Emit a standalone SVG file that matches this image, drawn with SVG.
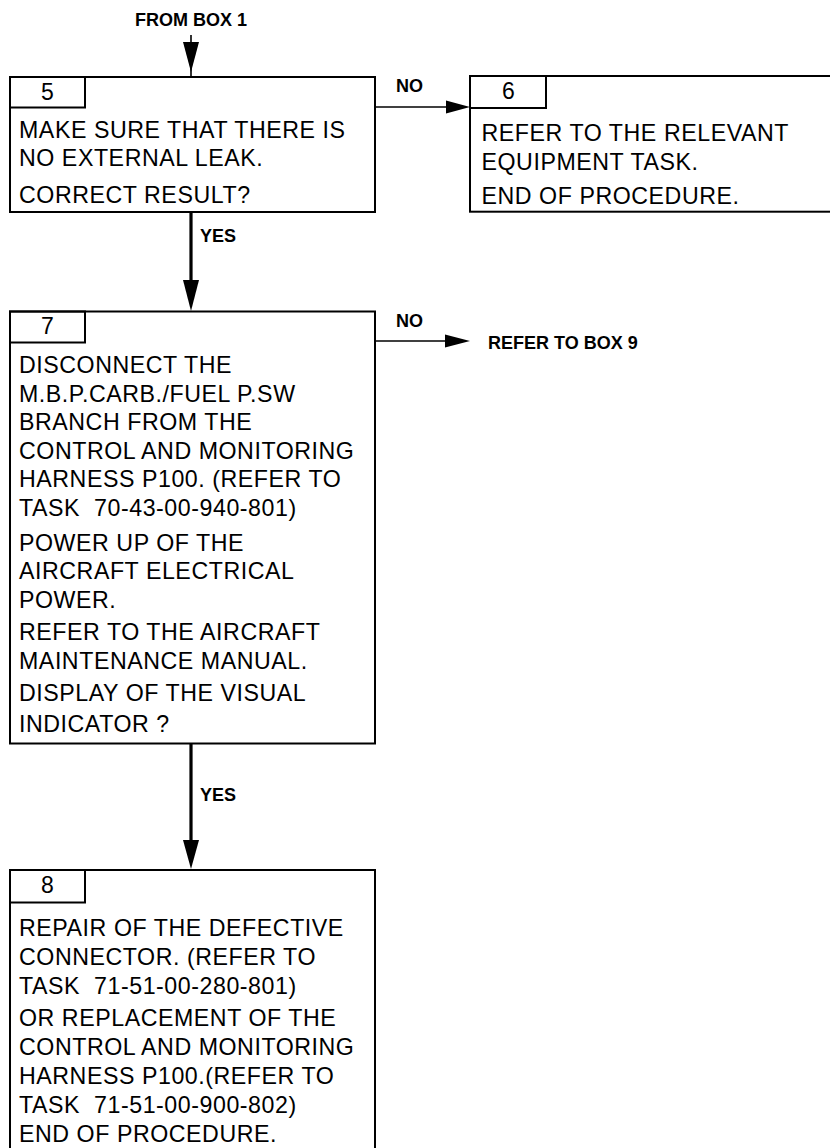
<svg xmlns="http://www.w3.org/2000/svg" width="830" height="1148" viewBox="0 0 830 1148">
<defs>
<style>
.box{fill:#fff;stroke:#000;stroke-width:2}
.tab{fill:none;stroke:#000;stroke-width:2}
.t{font-family:"Liberation Sans",Arial,sans-serif;font-size:23.2px;letter-spacing:0.55px;fill:#000;white-space:pre}
.n{font-family:"Liberation Sans",Arial,sans-serif;font-size:23px;fill:#000;text-anchor:middle}
.lb{font-family:"Liberation Sans",Arial,sans-serif;font-size:18px;font-weight:bold;fill:#000}
.thin{stroke:#000;stroke-width:1.6;fill:none}
.thick{stroke:#000;stroke-width:3.2;fill:none}
.head{fill:#000;stroke:none}
</style>
</defs>
<rect width="830" height="1148" fill="#fff"/>

<g id="connectors">
  <line class="thin" x1="191" y1="35" x2="191" y2="77"/>
  <polygon class="head" points="183,42 199,42 191,72"/>
  <line class="thick" x1="191" y1="212" x2="191" y2="282"/>
  <polygon class="head" points="183,280 199,280 191,311"/>
  <line class="thick" x1="191" y1="743" x2="191" y2="842"/>
  <polygon class="head" points="183,840 199,840 191,869"/>
  <line class="thin" x1="375" y1="107" x2="448" y2="107"/>
  <polygon class="head" points="446,100.5 446,113.5 470,107"/>
  <line class="thin" x1="375" y1="341" x2="447" y2="341"/>
  <polygon class="head" points="445,334.5 445,347.5 470,341"/>
  <text class="lb" x="135" y="26">FROM BOX 1</text>
  <text class="lb" x="200" y="242">YES</text>
  <text class="lb" x="396" y="92">NO</text>
  <text class="lb" x="396" y="327">NO</text>
  <text class="lb" x="488" y="348.5">REFER TO BOX 9</text>
  <text class="lb" x="200" y="801">YES</text>
</g>

<g id="box5">
  <rect class="box" x="10" y="77" width="365" height="135"/>
  <rect class="tab" x="10" y="77" width="75" height="30.5"/>
  <text class="n" x="47.5" y="99.5">5</text>
  <text class="t" x="19" y="137.5">MAKE SURE THAT THERE IS</text>
  <text class="t" x="19" y="166">NO EXTERNAL LEAK.</text>
  <text class="t" x="19" y="202.5">CORRECT RESULT?</text>
</g>

<g id="box6">
  <rect class="box" x="470" y="76" width="380" height="135.7"/>
  <rect class="tab" x="470" y="76" width="76" height="32"/>
  <text class="n" x="508.5" y="99">6</text>
  <text class="t" x="481.5" y="141">REFER TO THE RELEVANT</text>
  <text class="t" x="481.5" y="169.5">EQUIPMENT TASK.</text>
  <text class="t" x="481.5" y="203.5">END OF PROCEDURE.</text>
</g>

<g id="box7">
  <rect class="box" x="10" y="311.5" width="365" height="432"/>
  <rect class="tab" x="10" y="311.5" width="75" height="31"/>
  <text class="n" x="47.5" y="333.5">7</text>
  <text class="t" x="19" y="373">DISCONNECT THE</text>
  <text class="t" x="19" y="401.5">M.B.P.CARB./FUEL P.SW</text>
  <text class="t" x="19" y="430">BRANCH FROM THE</text>
  <text class="t" x="19" y="458.5">CONTROL AND MONITORING</text>
  <text class="t" x="19" y="487">HARNESS P100. (REFER TO</text>
  <text class="t" x="19" y="515.5" xml:space="preserve">TASK  70-43-00-940-801)</text>
  <text class="t" x="19" y="550.5">POWER UP OF THE</text>
  <text class="t" x="19" y="579">AIRCRAFT ELECTRICAL</text>
  <text class="t" x="19" y="607.5">POWER.</text>
  <text class="t" x="19" y="640">REFER TO THE AIRCRAFT</text>
  <text class="t" x="19" y="668.5">MAINTENANCE MANUAL.</text>
  <text class="t" x="19" y="701">DISPLAY OF THE VISUAL</text>
  <text class="t" x="19" y="732">INDICATOR ?</text>
</g>

<g id="box8">
  <rect class="box" x="10" y="870" width="365" height="300"/>
  <rect class="tab" x="10" y="870" width="75" height="32.5"/>
  <text class="n" x="47.5" y="892.5">8</text>
  <text class="t" x="19" y="935.5">REPAIR OF THE DEFECTIVE</text>
  <text class="t" x="19" y="964.5">CONNECTOR. (REFER TO</text>
  <text class="t" x="19" y="993.5" xml:space="preserve">TASK  71-51-00-280-801)</text>
  <text class="t" x="19" y="1025.5">OR REPLACEMENT OF THE</text>
  <text class="t" x="19" y="1054.5">CONTROL AND MONITORING</text>
  <text class="t" x="19" y="1083.5">HARNESS P100.(REFER TO</text>
  <text class="t" x="19" y="1112.5" xml:space="preserve">TASK  71-51-00-900-802)</text>
  <text class="t" x="19" y="1142">END OF PROCEDURE.</text>
</g>
</svg>
